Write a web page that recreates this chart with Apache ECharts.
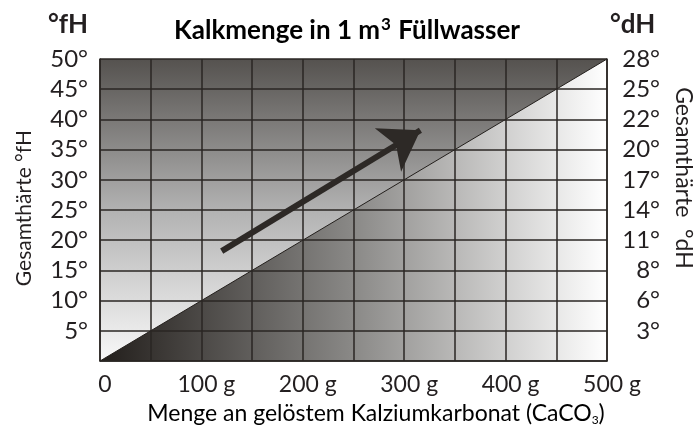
<!DOCTYPE html>
<html><head><meta charset="utf-8">
<script src="https://cdn.jsdelivr.net/npm/echarts@6/dist/echarts.min.js"></script>
<style>html,body{margin:0;padding:0;background:#fff}#c{width:697px;height:435px}</style>
</head><body><div id="c"></div>
<script>
// ---- data ----
const xTickValues = [0, 100, 200, 300, 400, 500];
const xTickLabels = ['0', '100 g', '200 g', '300 g', '400 g', '500 g'];
const fhTickValues = [5, 10, 15, 20, 25, 30, 35, 40, 45, 50];
const fhTickLabels = ['5°', '10°', '15°', '20°', '25°', '30°', '35°', '40°', '45°', '50°'];
const dhTickLabels = ['3°', '6°', '8°', '11°', '14°', '17°', '20°', '22°', '25°', '28°'];
const topEdgeX = [0, 500];
const topEdgeY = [50, 50];
const diagonalX = [0, 500];
const diagonalY = [0, 50];
const arrowFrom = [120, 18.2];
const arrowTo = [316, 38.2];

const FONT = 'Lato';
const TXT = '#231f20';
const chart = echarts.init(document.getElementById('c'), null, {renderer: 'canvas'});

function lbl(values, labels) {
  return function (v) { const i = values.indexOf(v); return i < 0 ? '' : labels[i]; };
}

const option = {
  animation: false,
  backgroundColor: '#ffffff',
  grid: {left: 100, right: 90, top: 59, bottom: 74},
  xAxis: {
    type: 'value', min: 0, max: 500, interval: 50, z: 5,
    axisLine: {show: true, lineStyle: {color: '#2a2623', width: 1.5}},
    axisTick: {show: false},
    splitLine: {show: true, lineStyle: {color: '#2a2623', width: 1.5}},
    axisLabel: {
      formatter: lbl(xTickValues, xTickLabels), margin: 12,
      fontFamily: FONT, fontSize: 23, color: TXT, padding: [0, 0, 0, 10],
      showMinLabel: true, showMaxLabel: true
    }
  },
  yAxis: [{
    type: 'value', min: 0, max: 50, interval: 5, position: 'left', z: 5,
    axisLine: {show: true, lineStyle: {color: '#2a2623', width: 1.5}},
    axisTick: {show: false},
    splitLine: {show: true, lineStyle: {color: '#2a2623', width: 1.5}},
    axisLabel: {
      formatter: lbl(fhTickValues, fhTickLabels), margin: 12,
      fontFamily: FONT, fontSize: 24, color: TXT, padding: [0, 0, 10, 0]
    }
  }, {
    type: 'value', min: 0, max: 50, interval: 5, position: 'right', z: 5,
    axisLine: {show: true, lineStyle: {color: '#2a2623', width: 1.5}},
    axisTick: {show: false},
    splitLine: {show: false},
    axisLabel: {
      formatter: lbl(fhTickValues, dhTickLabels), margin: 53, align: 'right',
      fontFamily: FONT, fontSize: 24, color: TXT, padding: [0, 0, 10, 0]
    }
  }],
  series: [{
    type: 'line', silent: true, z: 1, symbol: 'none',
    data: topEdgeX.map((x, i) => [x, topEdgeY[i]]),
    lineStyle: {width: 0},
    areaStyle: {origin: 'start', opacity: 1, color: {
      type: 'linear', x: 0, y: 0, x2: 0, y2: 1,
      colorStops: [{offset: 0, color: '#55524f'}, {offset: 0.5, color: '#b2b2b2'}, {offset: 1, color: '#f8f8f8'}]
    }}
  }, {
    type: 'line', silent: true, z: 2, symbol: 'none',
    data: diagonalX.map((x, i) => [x, diagonalY[i]]),
    lineStyle: {width: 1, color: '#231f1c'},
    areaStyle: {origin: 'start', opacity: 1, color: {
      type: 'linear', x: 0, y: 0, x2: 1, y2: 0,
      colorStops: [{offset: 0, color: '#221e1b'}, {offset: 0.5, color: '#8a8987'}, {offset: 1, color: '#ffffff'}]
    }}
  }, {
    type: 'lines', coordinateSystem: 'cartesian2d', z: 10, silent: true,
    symbol: ['none', 'arrow'], symbolSize: [25, 38],
    lineStyle: {color: '#2d2926', width: 6, opacity: 1, curveness: 0},
    data: [{coords: [arrowFrom, arrowTo]}]
  }],
  graphic: [
    {type: 'text', left: 48, top: 12, style: {text: '°fH', font: 'bold 26px Lato', fill: TXT}},
    {type: 'text', left: 610, top: 12, style: {text: '°dH', font: 'bold 26px Lato', fill: TXT}},
    {type: 'text', x: 347, y: 31, style: {
      text: '{a|Kalkmenge in 1 m}{s|3}{a| Füllwasser}', align: 'center', verticalAlign: 'middle',
      rich: {
        a: {fontFamily: FONT, fontWeight: 'bold', fontSize: 26, color: TXT},
        s: {fontFamily: FONT, fontWeight: 'bold', fontSize: 17, color: TXT, padding: [0, 1, 12, 1]}
      }
    }},
    {type: 'text', x: 376, y: 414, style: {
      text: '{a|Menge an gelöstem Kalziumkarbonat (CaCO}{s|3}{a|)}', align: 'center', verticalAlign: 'middle',
      rich: {
        a: {fontFamily: FONT, fontSize: 23, color: TXT},
        s: {fontFamily: FONT, fontSize: 12, color: TXT, padding: [12, 0, 0, 0]}
      }
    }},
    {type: 'text', x: 24, y: 208, rotation: Math.PI / 2, style: {
      text: 'Gesamthärte °fH', align: 'center', verticalAlign: 'middle', font: '21px Lato', fill: TXT
    }},
    {type: 'text', x: 683, y: 178, rotation: -Math.PI / 2, style: {
      text: 'Gesamthärte  °dH', align: 'center', verticalAlign: 'middle', font: '23px Lato', fill: TXT
    }}
  ]
};
chart.setOption(option);
</script></body></html>
